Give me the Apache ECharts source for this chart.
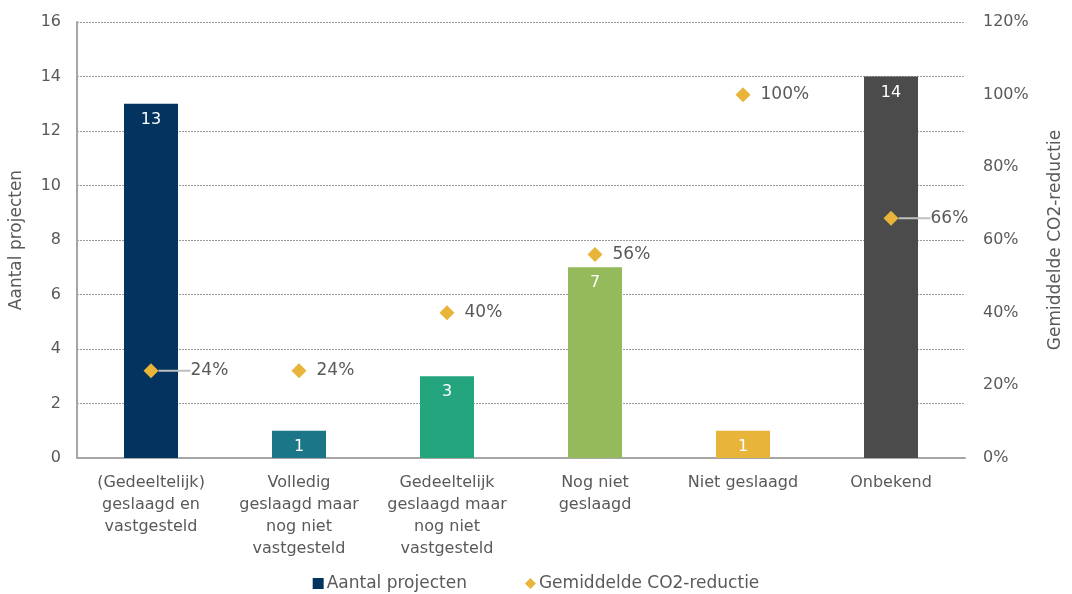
<!DOCTYPE html>
<html><head><meta charset="utf-8">
<script src="https://cdn.jsdelivr.net/npm/echarts@6/dist/echarts.min.js"></script>
<style>html,body{margin:0;padding:0;background:#fff}#c{width:1072px;height:594px}</style>
</head><body><div id="c"></div>
<script>
const categories = ['(Gedeeltelijk)\ngeslaagd en\nvastgesteld','Volledig\ngeslaagd maar\nnog niet\nvastgesteld','Gedeeltelijk\ngeslaagd maar\nnog niet\nvastgesteld','Nog niet\ngeslaagd','Niet geslaagd','Onbekend'];
const aantalProjecten = [13, 1, 3, 7, 1, 14];
const co2Reductie = [24, 24, 40, 56, 100, 66];
const barColors = ['#02345F','#1B7688','#24A57E','#95BA5B','#E8B53A','#4B4B4B'];
const leaderLabels = [true, false, false, false, false, true];
const leftTicks = {min:0, max:16, interval:2};
const rightTicks = {min:0, max:120, interval:20};

const font = 'DejaVu Sans, Verdana, sans-serif';
const txt = '#595959';
const chart = echarts.init(document.getElementById('c'));
chart.setOption({
  animation:false,
  textStyle:{fontFamily:font},
  grid:{left:73, right:100, top:22, bottom:136},
  legend:{
    bottom:-3, left:'center', itemGap:58, itemWidth:11, itemHeight:11,
    textStyle:{color:txt, fontSize:17, fontFamily:font, padding:[0,0,0,-2]},
    data:[{name:'Aantal projecten', icon:'rect'},{name:'Gemiddelde CO2-reductie', icon:'diamond'}]
  },
  xAxis:{
    type:'category', data:categories,
    axisLine:{lineStyle:{color:'#A6A6A6', width:2}},
    axisTick:{show:false},
    axisLabel:{color:txt, fontSize:16, lineHeight:22, margin:14, interval:0}
  },
  yAxis:[{
    type:'value', min:leftTicks.min, max:leftTicks.max, interval:leftTicks.interval,
    name:'Aantal projecten', nameLocation:'middle', nameGap:52, nameRotate:90,
    nameTextStyle:{color:txt, fontSize:17},
    axisLine:{show:true, lineStyle:{color:'#A6A6A6', width:2}},
    axisTick:{show:false},
    axisLabel:{color:txt, fontSize:16, margin:16},
    splitLine:{lineStyle:{color:'#9A9A9A', type:[2,1], width:1}}
  },{
    type:'value', min:rightTicks.min, max:rightTicks.max, interval:rightTicks.interval,
    name:'Gemiddelde CO2-reductie', nameLocation:'middle', nameGap:82, nameRotate:90,
    nameTextStyle:{color:txt, fontSize:17},
    axisLine:{show:false}, axisTick:{show:false},
    axisLabel:{color:txt, fontSize:16, margin:18, formatter:'{value}%'},
    splitLine:{show:false}
  }],
  series:[{
    name:'Aantal projecten', type:'bar', barWidth:54, color:barColors[0],
    data: aantalProjecten.map((v,i)=>({value:v, itemStyle:{color:barColors[i]}})),
    label:{show:true, position:'insideTop', color:'#fff', fontSize:16, distance:8}
  },{
    name:'Gemiddelde CO2-reductie', type:'scatter', yAxisIndex:1, symbol:'diamond', symbolSize:15,
    color:'#E8B43A', itemStyle:{opacity:1},
    data: co2Reductie.map((v,i)=>({value:v, labelLine:{show:leaderLabels[i]}})),
    label:{show:true, position:'right', color:txt, fontSize:17, distance:10, formatter:'{c}%'},
    labelLine:{lineStyle:{color:'#BFBFBF', width:2}},
    labelLayout:function(p){ return leaderLabels[p.dataIndex] ? {dx:22} : {}; },
    z:5
  }]
});
</script></body></html>
